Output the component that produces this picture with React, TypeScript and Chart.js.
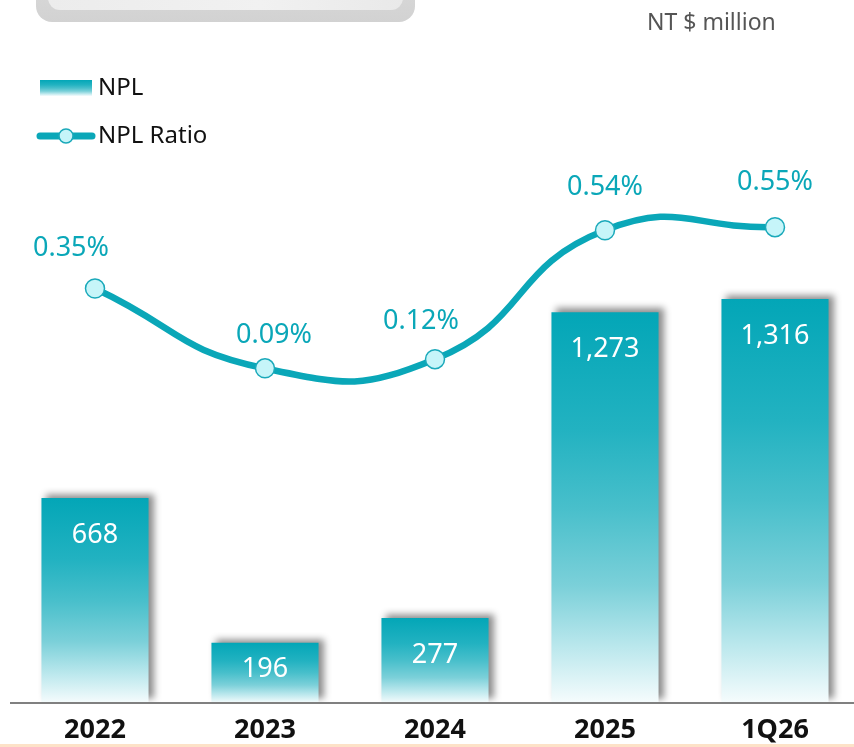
import React, { useEffect, useRef } from "react";
import { Chart, registerables } from "chart.js";

Chart.register(...registerables);

const categories = ["2022", "2023", "2024", "2025", "1Q26"];
const nplValues = [668, 196, 277, 1273, 1316];
const nplLabels = ["668", "196", "277", "1,273", "1,316"];
const nplRatio = [0.35, 0.09, 0.12, 0.54, 0.55];
const ratioLabels = ["0.35%", "0.09%", "0.12%", "0.54%", "0.55%"];
// label placement tweaks (text offsets relative to the points)
const ratioLabelDx = [-24, 9, -14, 0, 0];
const ratioLabelDy = [-40, -33, -38, -43, -45];

const TEAL = "#0aa7b8";
const FONT = '"Noto Sans", "Open Sans", sans-serif';

function barGradient(ctx: CanvasRenderingContext2D, top: number, bottom: number) {
  const g = ctx.createLinearGradient(0, top, 0, bottom);
  g.addColorStop(0, "#03a6b7");
  g.addColorStop(0.3, "#22b2c1");
  g.addColorStop(0.5, "#48bfcb");
  g.addColorStop(0.7, "#7bd0d9");
  g.addColorStop(0.86, "#bce8ed");
  g.addColorStop(1, "#f6fcfd");
  return g;
}

const drawPlugin = {
  id: "customDraw",
  beforeDatasetDraw(chart: any, args: any) {
    if (args.index === 0) {
      const ctx = chart.ctx;
      const meta = chart.getDatasetMeta(0);
      meta.data.forEach((el: any) => {
        if (isFinite(el.y) && isFinite(el.base)) {
          el.options = Object.assign(Object.create(Object.getPrototypeOf(el.options)), el.options, {
            backgroundColor: barGradient(ctx, el.y, el.base),
          });
        }
      });
      ctx.save();
      ctx.shadowColor = "rgba(0,0,0,0.45)";
      ctx.shadowBlur = 7;
      ctx.shadowOffsetX = 5;
      ctx.shadowOffsetY = -4;
    }
  },
  afterDatasetDraw(chart: any, args: any) {
    if (args.index === 0) {
      chart.ctx.restore();
      // bar value labels
      const ctx = chart.ctx;
      const meta = chart.getDatasetMeta(0);
      ctx.save();
      ctx.fillStyle = "#ffffff";
      ctx.font = `27px ${FONT}`;
      ctx.textAlign = "center";
      ctx.textBaseline = "middle";
      meta.data.forEach((el: any, i: number) => {
        const top = el.y;
        const bottom = el.base;
        const y = Math.min(top + 37, (top + bottom) / 2 - 4);
        ctx.fillText(nplLabels[i], el.x, y);
      });
      ctx.restore();
    }
  },
  afterDraw(chart: any) {
    const ctx = chart.ctx;
    const area = chart.chartArea;
    ctx.save();
    // axis line
    ctx.strokeStyle = "#808080";
    ctx.lineWidth = 2;
    ctx.beginPath();
    ctx.moveTo(10, area.bottom);
    ctx.lineTo(854, area.bottom);
    ctx.stroke();

    // x labels
    const xs = chart.scales.x;
    ctx.fillStyle = "#111111";
    ctx.font = `bold 27px ${FONT}`;
    ctx.textAlign = "center";
    ctx.textBaseline = "middle";
    categories.forEach((c, i) => {
      ctx.fillText(c, xs.getPixelForValue(i), area.bottom + 27);
    });

    // ratio labels
    const lineMeta = chart.getDatasetMeta(1);
    ctx.fillStyle = TEAL;
    ctx.font = `27px ${FONT}`;
    lineMeta.data.forEach((pt: any, i: number) => {
      ctx.fillText(ratioLabels[i], pt.x + ratioLabelDx[i], pt.y + ratioLabelDy[i]);
    });

    // unit
    ctx.fillStyle = "#555555";
    ctx.font = `23px ${FONT}`;
    ctx.textAlign = "left";
    ctx.fillText("NT $ million", 647, 23);

    // legend
    ctx.fillStyle = barGradient(ctx, 80, 96);
    ctx.fillRect(40, 80, 52, 16);
    ctx.fillStyle = "#111111";
    ctx.font = `24px ${FONT}`;
    ctx.fillText("NPL", 98, 88);

    ctx.strokeStyle = TEAL;
    ctx.lineWidth = 7;
    ctx.lineCap = "round";
    ctx.beginPath();
    ctx.moveTo(40, 136);
    ctx.lineTo(92, 136);
    ctx.stroke();
    ctx.beginPath();
    ctx.arc(66, 136, 7, 0, Math.PI * 2);
    ctx.fillStyle = "#c6f5f9";
    ctx.fill();
    ctx.lineWidth = 1.5;
    ctx.strokeStyle = "#1aa9ba";
    ctx.stroke();
    ctx.fillStyle = "#111111";
    ctx.fillText("NPL Ratio", 98, 136);
    ctx.restore();
  },
};

export default function App() {
  const canvasRef = useRef<HTMLCanvasElement | null>(null);

  useEffect(() => {
    const canvas = canvasRef.current;
    if (!canvas) return;
    const chart = new Chart(canvas, {
      type: "bar",
      data: {
        labels: categories,
        datasets: [
          {
            type: "bar",
            label: "NPL",
            data: nplValues,
            yAxisID: "y",
            order: 1,
            barPercentage: 0.63,
            categoryPercentage: 1,
            backgroundColor: () => "#2bb6c4",
            borderWidth: 0,
          },
          {
            type: "line",
            label: "NPL Ratio",
            data: nplRatio,
            yAxisID: "y2",
            order: 0,
            borderColor: TEAL,
            borderWidth: 6.5,
            tension: 0.5,
            pointRadius: 9.5,
            pointBackgroundColor: "#c6f5f9",
            pointBorderColor: "#1aa9ba",
            pointBorderWidth: 1.5,
            clip: false,
          } as any,
        ],
      },
      options: {
        responsive: false,
        animation: false,
        devicePixelRatio: 1,
        layout: { autoPadding: false, padding: { left: 10, right: 0, top: 89, bottom: 44 } },
        plugins: { legend: { display: false }, tooltip: { enabled: false } },
        scales: {
          x: { display: false, offset: true },
          y: { display: false, min: 0, max: 2000 },
          y2: { display: false, min: -1, max: 1, position: "right" },
        },
      },
      plugins: [drawPlugin],
    } as any);
    return () => chart.destroy();
  }, []);

  return (
    <div
      style={{
        position: "fixed",
        left: 0,
        top: 0,
        width: 854,
        height: 747,
        overflow: "hidden",
        background: "#ffffff",
      }}
    >
      <div
        style={{
          position: "absolute",
          left: 36,
          top: -40,
          width: 379,
          height: 62,
          borderRadius: 16,
          background: "linear-gradient(180deg, #dcdcdc, #d2d2d2)",
        }}
      />
      <div
        style={{
          position: "absolute",
          left: 48,
          top: -40,
          width: 355,
          height: 50,
          borderRadius: 12,
          background: "linear-gradient(90deg, #ececec, #f1f1f1 60%, #e9e9e9)",
        }}
      />
      <div
        style={{
          position: "absolute",
          left: 0,
          top: 744,
          width: 854,
          height: 3,
          background: "#fde2c8",
        }}
      />
      <canvas
        ref={canvasRef}
        width={860}
        height={747}
        style={{ position: "absolute", left: 0, top: 0, width: 860, height: 747 }}
      />
    </div>
  );
}
